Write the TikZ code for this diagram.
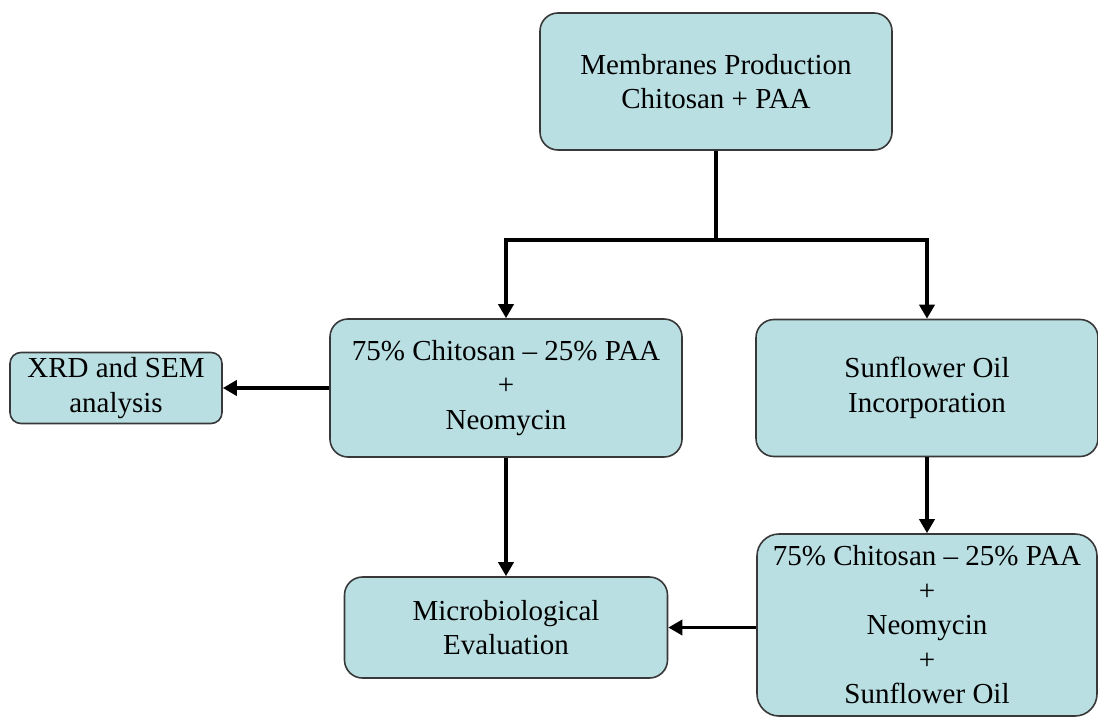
\documentclass[tikz,border=0pt]{standalone}
\usepackage{fontspec}
\setmainfont{Liberation Serif}
\usetikzlibrary{arrows.meta}
\definecolor{boxfill}{HTML}{B9DFE3}
\definecolor{boxline}{HTML}{383838}
\begin{document}
\begin{tikzpicture}[x=1pt,y=-1pt,
  flowbox/.style={draw=boxline, line width=1.6pt, fill=boxfill, rounded corners=18pt,
    align=center, inner sep=0pt, font=\fontsize{29}{34.5}\selectfont},
  conn/.style={line width=3.7pt, black},
  arr/.style={conn, -{Triangle[width=15pt,length=14pt]}}]
\useasboundingbox (0,0) rectangle (1098,717);
\node[flowbox, minimum width=352pt, minimum height=137pt] (prod) at (716,81.5)
  {Membranes Production\\Chitosan + PAA};
\node[flowbox, minimum width=352pt, minimum height=138pt] (neo) at (506,388)
  {75\% Chitosan – 25\% PAA\\+\\Neomycin};
\node[flowbox, minimum width=342pt, minimum height=137pt] (sun) at (927,388)
  {Sunflower Oil\\Incorporation};
\node[flowbox, rounded corners=11pt, minimum width=212pt, minimum height=71pt] (xrd) at (116,388)
  {XRD and SEM\\analysis};
\node[flowbox, minimum width=323pt, minimum height=101pt] (micro) at (506,627.5)
  {Microbiological\\Evaluation};
\node[flowbox, rounded corners=22pt, minimum width=340pt, minimum height=182pt] (all) at (927,625)
  {75\% Chitosan – 25\% PAA\\+\\Neomycin\\+\\Sunflower Oil};
\coordinate (split) at (716,240);
\draw[conn] (prod.south) -- (split);
\draw[arr] (split) -| (neo.north);
\draw[arr] (split) -| (sun.north);
\draw[arr] (neo.west) -- (xrd.east);
\draw[arr] (neo.south) -- (micro.north);
\draw[arr] (sun.south) -- (all.north);
\draw[arr] (all.west |- micro.east) -- (micro.east);
\end{tikzpicture}
\end{document}
